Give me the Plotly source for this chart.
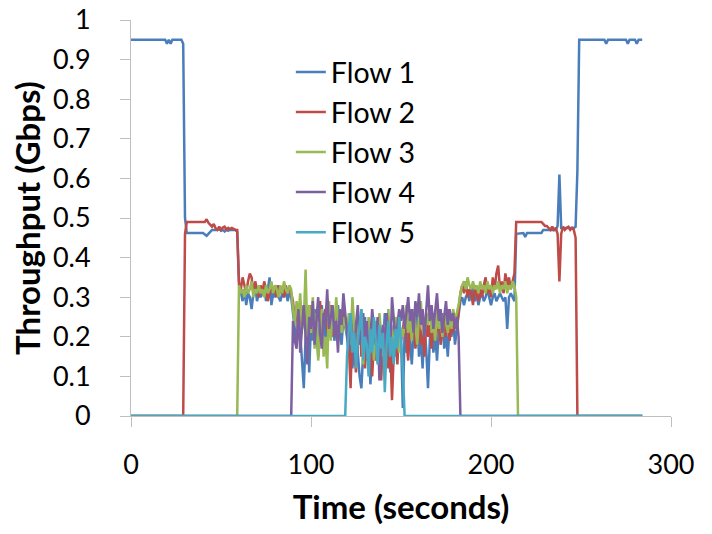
import plotly.graph_objects as go

FONT = "Lato"

# ---------------- data (Gbps vs seconds) ----------------
x_ticks = [0, 100, 200, 300]
y_ticks = [0, 0.1, 0.2, 0.3, 0.4, 0.5, 0.6, 0.7, 0.8, 0.9, 1]

# Flow 1
flow1_head_t = [0, 19, 20, 21, 22, 23, 28, 29, 30, 31, 40, 41, 42, 43, 44, 45, 48, 49, 50, 51, 52, 53, 54, 55, 58, 59]
flow1_head_v = [0.95, 0.95, 0.94, 0.95, 0.94, 0.95, 0.95, 0.94, 0.50, 0.462, 0.462, 0.458, 0.455, 0.46, 0.465, 0.47,
                0.47, 0.472, 0.468, 0.47, 0.466, 0.472, 0.468, 0.47, 0.47, 0.465]
flow1_mid_start = 60
flow1_mid_v = [
    0.34, 0.31, 0.29, 0.32, 0.28, 0.31, 0.30, 0.27, 0.31, 0.33, 0.29, 0.31, 0.30, 0.31, 0.33,
    0.29, 0.32, 0.35, 0.28, 0.31, 0.30, 0.33, 0.30, 0.29, 0.31, 0.30, 0.32, 0.29, 0.31, 0.30,
    0.26, 0.22, 0.18, 0.25, 0.21, 0.14, 0.07, 0.20, 0.26, 0.11, 0.24, 0.19, 0.27, 0.22, 0.15,
    0.24, 0.28, 0.20, 0.23, 0.17, 0.25, 0.21, 0.26, 0.19, 0.23, 0.28, 0.21, 0.18, 0.25, 0.22,
    0.20, 0.15, 0.22, 0.12, 0.19, 0.24, 0.16, 0.10, 0.07, 0.18, 0.25, 0.14, 0.20, 0.08, 0.17,
    0.23, 0.15, 0.19, 0.12, 0.22, 0.17, 0.26, 0.14, 0.20, 0.11, 0.18, 0.23, 0.15, 0.21, 0.17, 0.20,
    0.02,
    0.21, 0.16, 0.24, 0.19, 0.13, 0.22, 0.18, 0.25, 0.15, 0.20, 0.12, 0.23, 0.17, 0.07, 0.19,
    0.24, 0.16, 0.21, 0.14, 0.22, 0.19, 0.26, 0.17, 0.21, 0.15, 0.23, 0.20, 0.24, 0.18, 0.22, 0.25,
    0.29, 0.30, 0.28, 0.30, 0.31, 0.29, 0.33, 0.30, 0.29, 0.31, 0.28, 0.30, 0.31, 0.29, 0.30,
    0.32, 0.30, 0.28, 0.30, 0.31, 0.29, 0.30, 0.31, 0.30, 0.29, 0.30, 0.22, 0.30, 0.31, 0.30, 0.29,
]
flow1_tail_t = [214, 218, 219, 220, 228, 229, 236, 237, 238, 239, 240, 246, 247, 248, 249, 263, 264, 265,
                275, 276, 277, 280, 281, 282, 284]
flow1_tail_v = [0.46, 0.462, 0.452, 0.462, 0.462, 0.47, 0.47, 0.48, 0.61, 0.475, 0.475, 0.475, 0.478, 0.62,
                0.95, 0.95, 0.94, 0.95, 0.95, 0.94, 0.95, 0.95, 0.94, 0.95, 0.95]

# Flow 2
flow2_head_t = [0, 29, 30, 31, 41, 42, 43, 44, 45, 46, 47, 48, 49, 50, 51, 52, 53, 54, 55, 56, 57, 58, 59]
flow2_head_v = [0, 0, 0.46, 0.49, 0.49, 0.497, 0.488, 0.482, 0.478, 0.485, 0.474, 0.47, 0.478, 0.47, 0.476,
                0.478, 0.47, 0.475, 0.472, 0.475, 0.472, 0.47, 0.47]
flow2_mid_start = 60
flow2_mid_v = [
    0.33, 0.32, 0.35, 0.33, 0.31, 0.34, 0.36, 0.35, 0.31, 0.34, 0.32, 0.30, 0.33, 0.31, 0.34,
    0.32, 0.29, 0.31, 0.33, 0.31, 0.32, 0.30, 0.33, 0.31, 0.32, 0.30, 0.33, 0.31, 0.32, 0.31,
    0.29, 0.24, 0.27, 0.21, 0.26, 0.23, 0.28, 0.22, 0.19, 0.25, 0.28, 0.23, 0.20, 0.26, 0.24,
    0.29, 0.22, 0.25, 0.27, 0.21, 0.24, 0.28, 0.20, 0.25, 0.23, 0.19, 0.26, 0.22, 0.27, 0.24,
    0.22, 0.18, 0.07, 0.24, 0.16, 0.11, 0.20, 0.25, 0.15, 0.19, 0.12, 0.22, 0.17, 0.23, 0.10,
    0.19, 0.14, 0.21, 0.17, 0.09, 0.20, 0.15, 0.22, 0.12, 0.18, 0.04, 0.16, 0.21, 0.13, 0.24, 0.19,
    0.22, 0.25, 0.19, 0.14, 0.23, 0.20, 0.26, 0.17, 0.21, 0.24, 0.18, 0.22, 0.15, 0.25, 0.20, 0.23,
    0.17, 0.26, 0.19, 0.22, 0.25, 0.18, 0.21, 0.24, 0.20, 0.27, 0.19, 0.23, 0.21, 0.25, 0.22, 0.27,
    0.31, 0.33, 0.31, 0.34, 0.30, 0.32, 0.31, 0.28, 0.33, 0.31, 0.29, 0.32, 0.30, 0.33, 0.35,
    0.31, 0.33, 0.30, 0.35, 0.32, 0.36, 0.38, 0.32, 0.34, 0.31, 0.36, 0.33, 0.35, 0.32, 0.34, 0.36,
]
flow2_tail_t = [214, 228, 229, 230, 231, 232, 233, 234, 235, 236, 237, 238, 239, 240, 241, 242, 243, 244,
                245, 246, 247, 248, 284]
flow2_tail_v = [0.49, 0.49, 0.485, 0.48, 0.48, 0.475, 0.47, 0.478, 0.47, 0.475, 0.46, 0.34, 0.46, 0.478,
                0.47, 0.475, 0.478, 0.47, 0.475, 0.47, 0.45, 0.0, 0.0]

# Flow 3
flow3_head_t = [0, 59]
flow3_head_v = [0, 0]
flow3_mid_start = 60
flow3_mid_v = [
    0.33, 0.31, 0.32, 0.30, 0.33, 0.31, 0.32, 0.34, 0.30, 0.32, 0.31, 0.33, 0.31, 0.32, 0.30,
    0.33, 0.31, 0.32, 0.34, 0.31, 0.33, 0.32, 0.30, 0.33, 0.31, 0.34, 0.32, 0.31, 0.33, 0.32,
    0.27, 0.23, 0.29, 0.25, 0.31, 0.22, 0.24, 0.37, 0.20, 0.28, 0.21, 0.30, 0.17, 0.26, 0.14,
    0.22, 0.27, 0.15, 0.20, 0.12, 0.29, 0.19, 0.26, 0.22, 0.30, 0.24, 0.27, 0.21, 0.25, 0.23,
    0.21, 0.26, 0.18, 0.30, 0.22, 0.15, 0.24, 0.19, 0.27, 0.13, 0.21, 0.17, 0.25, 0.19, 0.22,
    0.14, 0.24, 0.18, 0.26, 0.20, 0.15, 0.23, 0.19, 0.27, 0.16, 0.22, 0.18, 0.25, 0.20, 0.16, 0.22,
    0.20, 0.24, 0.28, 0.21, 0.25, 0.19, 0.27, 0.23, 0.18, 0.25, 0.29, 0.22, 0.20, 0.26, 0.23, 0.28,
    0.21, 0.24, 0.19, 0.27, 0.22, 0.25, 0.20, 0.26, 0.23, 0.21, 0.25, 0.22, 0.27, 0.24, 0.26, 0.28,
    0.31, 0.33, 0.34, 0.32, 0.35, 0.33, 0.32, 0.34, 0.32, 0.33, 0.31, 0.34, 0.32, 0.33, 0.31,
    0.34, 0.32, 0.33, 0.31, 0.33, 0.32, 0.34, 0.31, 0.33, 0.32, 0.34, 0.31, 0.33, 0.32, 0.34, 0.33,
]
flow3_tail_t = [214, 215, 284]
flow3_tail_v = [0.30, 0.0, 0.0]

# Flow 4
flow4_head_t = [0, 89]
flow4_head_v = [0, 0]
flow4_mid_start = 90
flow4_mid_v = [
    0.24, 0.19, 0.17, 0.27, 0.16, 0.23, 0.28, 0.20, 0.13, 0.25, 0.22, 0.29, 0.18, 0.24, 0.30,
    0.21, 0.17, 0.26, 0.23, 0.32, 0.22, 0.25, 0.28, 0.20, 0.24, 0.16, 0.27, 0.23, 0.31, 0.26,
    0.22, 0.17, 0.25, 0.19, 0.14, 0.23, 0.28, 0.18, 0.21, 0.26, 0.16, 0.24, 0.13, 0.20, 0.27,
    0.22, 0.18, 0.25, 0.09, 0.19, 0.23, 0.17, 0.26, 0.21, 0.15, 0.30, 0.24, 0.19, 0.23, 0.27, 0.24,
    0.28, 0.22, 0.26, 0.30, 0.24, 0.27, 0.21, 0.29, 0.25, 0.31, 0.23, 0.27, 0.20, 0.26, 0.33, 0.24,
    0.28, 0.22, 0.26, 0.31, 0.24, 0.27, 0.21, 0.25, 0.29, 0.23, 0.27, 0.24, 0.26, 0.22, 0.25, 0.20,
]
flow4_tail_t = [183, 284]
flow4_tail_v = [0.0, 0.0]

# Flow 5
flow5_head_t = [0, 119]
flow5_head_v = [0, 0]
flow5_mid_start = 120
flow5_mid_v = [
    0.15, 0.22, 0.26, 0.16, 0.21, 0.12, 0.19, 0.24, 0.27, 0.14, 0.20, 0.18, 0.10, 0.22, 0.16, 0.25,
    0.19, 0.13, 0.23, 0.17, 0.21, 0.06, 0.18, 0.24, 0.15, 0.20, 0.13, 0.22, 0.17, 0.25, 0.19, 0.12,
]
flow5_tail_t = [152, 284]
flow5_tail_v = [0.0, 0.0]

flow_names = ["Flow 1", "Flow 2", "Flow 3", "Flow 4", "Flow 5"]
flow_colors = ["#4A7EBB", "#BE4B48", "#98B954", "#7D60A0", "#46AAC5"]


def assemble(head_t, head_v, mid_start, mid_v, tail_t, tail_v):
    mid_t = list(range(mid_start, mid_start + len(mid_v)))
    return head_t + mid_t + tail_t, head_v + mid_v + tail_v


flows = [
    assemble(flow1_head_t, flow1_head_v, flow1_mid_start, flow1_mid_v, flow1_tail_t, flow1_tail_v),
    assemble(flow2_head_t, flow2_head_v, flow2_mid_start, flow2_mid_v, flow2_tail_t, flow2_tail_v),
    assemble(flow3_head_t, flow3_head_v, flow3_mid_start, flow3_mid_v, flow3_tail_t, flow3_tail_v),
    assemble(flow4_head_t, flow4_head_v, flow4_mid_start, flow4_mid_v, flow4_tail_t, flow4_tail_v),
    assemble(flow5_head_t, flow5_head_v, flow5_mid_start, flow5_mid_v, flow5_tail_t, flow5_tail_v),
]

fig = go.Figure()
for name, color, (t, v) in zip(flow_names, flow_colors, flows):
    fig.add_trace(go.Scatter(x=t, y=v, mode="lines", name=name,
                             line=dict(color=color, width=2.5)))

axis_color = "#BFBFBF"
tick_font = dict(family=FONT, size=27, color="black")
title_font = dict(family=FONT, size=33, color="black", weight="bold")

fig.update_layout(
    width=712, height=534,
    margin=dict(l=131, r=41, t=20, b=118),
    plot_bgcolor="white", paper_bgcolor="white",
    showlegend=True,
    legend=dict(x=0.296, y=0.932, xanchor="left", yanchor="top",
                font=dict(family=FONT, size=28.5, color="black"),
                bgcolor="rgba(0,0,0,0)", itemwidth=30),
)
fig.update_xaxes(
    range=[0, 300], tickvals=x_ticks, ticks="outside", ticklen=10, tickcolor=axis_color,
    showline=True, linecolor=axis_color, linewidth=1, showgrid=False, zeroline=False,
    tickfont=tick_font, ticklabelstandoff=15, layer="below traces", automargin=False,
    title=dict(text="Time (seconds)", font=title_font, standoff=16),
)
fig.update_yaxes(
    range=[0, 1], tickvals=y_ticks, ticks="outside", ticklen=10, tickcolor=axis_color,
    showline=True, linecolor=axis_color, linewidth=1, showgrid=False, zeroline=False,
    tickfont=tick_font, ticklabelstandoff=24, layer="below traces", automargin=False,
    title=dict(text="Throughput (Gbps)", font=title_font, standoff=2),
)

# remove the browser's default page margin so the figure fills the window exactly
fig.write_html("out.html", config={"displayModeBar": False},
               post_script="document.body.style.margin='0';")
